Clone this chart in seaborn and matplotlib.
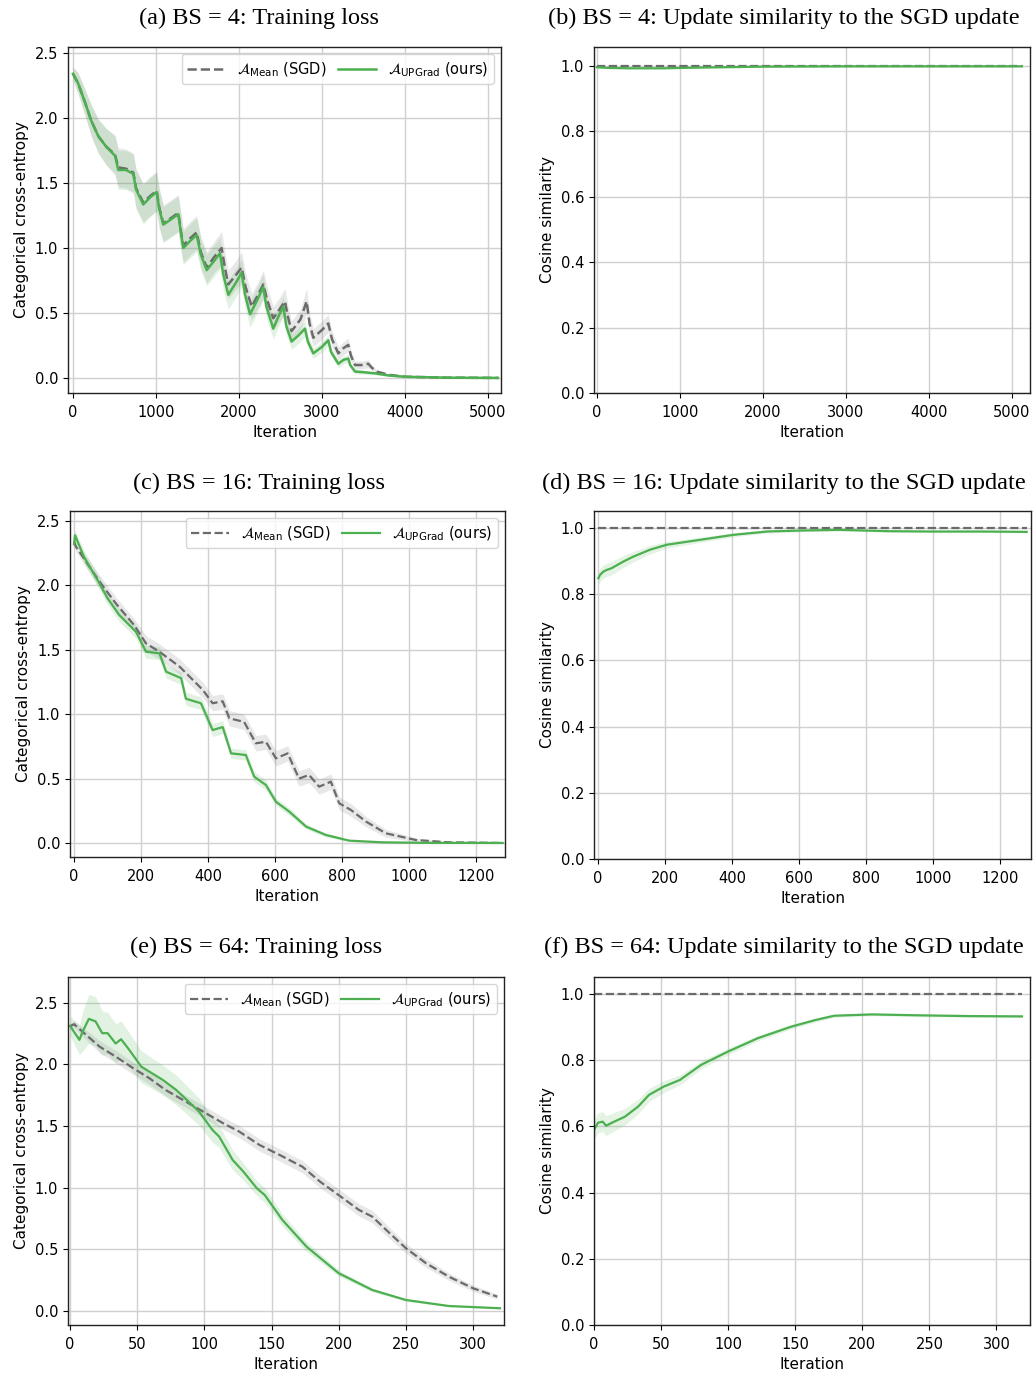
import numpy as np
import matplotlib
matplotlib.use("Agg")
import matplotlib.pyplot as plt
import seaborn as sns

# ---- data ----
# (a) BS = 4, training loss
a_up_x = [0, 60, 145, 220, 305, 400, 506, 546, 640, 727, 760, 847, 930, 1008, 1040, 1088, 1180, 1269, 1300, 1329,
          1420, 1490, 1540, 1611, 1700, 1771, 1810, 1871, 1960, 2032, 2070, 2133, 2220, 2293, 2330, 2413, 2480, 2534,
          2570, 2634, 2720, 2795, 2830, 2896, 3000, 3076, 3110, 3197, 3260, 3317, 3340, 3398, 3500, 3639, 3800, 4000,
          4500, 5120]
a_up_y = [2.34, 2.27, 2.12, 1.98, 1.86, 1.78, 1.71, 1.60, 1.60, 1.57, 1.45, 1.335, 1.39, 1.43, 1.30, 1.18, 1.22, 1.26,
          1.12, 1.00, 1.06, 1.10, 0.95, 0.83, 0.90, 0.96, 0.80, 0.64, 0.73, 0.81, 0.65, 0.49, 0.60, 0.70, 0.55, 0.38,
          0.48, 0.55, 0.40, 0.28, 0.33, 0.38, 0.28, 0.19, 0.24, 0.29, 0.20, 0.11, 0.14, 0.15, 0.10, 0.05, 0.045, 0.036,
          0.02, 0.01, 0.003, 0.001]
a_up_sd = [0.05, 0.08, 0.10, 0.12, 0.13, 0.14, 0.15, 0.15, 0.15, 0.15, 0.15, 0.15, 0.15, 0.15, 0.15, 0.14, 0.14, 0.14,
           0.14, 0.13, 0.13, 0.13, 0.12, 0.12, 0.12, 0.12, 0.12, 0.11, 0.11, 0.11, 0.10, 0.10, 0.10, 0.10, 0.09, 0.08,
           0.08, 0.08, 0.07, 0.06, 0.06, 0.06, 0.05, 0.04, 0.04, 0.04, 0.03, 0.03, 0.03, 0.03, 0.02, 0.02, 0.015,
           0.01, 0.005, 0.003, 0.001, 0.0]

a_mean_x = [0, 60, 145, 220, 305, 400, 506, 546, 640, 727, 760, 847, 930, 1008, 1040, 1088, 1180, 1269, 1300, 1329,
            1420, 1490, 1540, 1611, 1700, 1791, 1830, 1871, 1960, 2032, 2080, 2153, 2230, 2293, 2340, 2413, 2480,
            2554, 2590, 2634, 2740, 2815, 2850, 2896, 3000, 3076, 3120, 3197, 3260, 3317, 3350, 3398, 3480, 3558,
            3600, 3659, 3800, 4000, 4500, 5120]
a_mean_y = [2.34, 2.27, 2.12, 1.98, 1.86, 1.78, 1.72, 1.62, 1.61, 1.58, 1.46, 1.35, 1.40, 1.44, 1.31, 1.19, 1.23, 1.27,
            1.13, 1.02, 1.08, 1.12, 0.97, 0.85, 0.93, 1.00, 0.85, 0.72, 0.79, 0.85, 0.70, 0.55, 0.64, 0.72, 0.60, 0.46,
            0.52, 0.59, 0.47, 0.36, 0.45, 0.59, 0.42, 0.31, 0.37, 0.42, 0.30, 0.19, 0.23, 0.255, 0.17, 0.10, 0.10, 0.11,
            0.08, 0.05, 0.025, 0.01, 0.003, 0.001]
a_mean_sd = [0.05, 0.08, 0.10, 0.12, 0.13, 0.14, 0.15, 0.15, 0.15, 0.15, 0.15, 0.15, 0.15, 0.15, 0.15, 0.14, 0.14,
             0.14, 0.14, 0.13, 0.13, 0.13, 0.12, 0.12, 0.12, 0.13, 0.12, 0.11, 0.11, 0.12, 0.11, 0.10, 0.10, 0.11,
             0.10, 0.09, 0.09, 0.10, 0.09, 0.08, 0.08, 0.10, 0.08, 0.07, 0.07, 0.07, 0.06, 0.05, 0.05, 0.05, 0.04,
             0.03, 0.03, 0.03, 0.02, 0.015, 0.008, 0.004, 0.001, 0.0]

# (b) BS = 4, cosine similarity to the SGD update
b_x = [0, 150, 400, 800, 1200, 2000, 3000, 4000, 5120]
b_up = [0.995, 0.993, 0.992, 0.992, 0.994, 0.997, 0.998, 0.998, 0.998]
b_mean = [1.0, 1.0, 1.0, 1.0, 1.0, 1.0, 1.0, 1.0, 1.0]

# (c) BS = 16, training loss
c_up_x = [0, 3, 30, 76, 100, 135, 185, 215, 255, 275, 320, 334, 379, 414, 444, 469, 513, 538, 573, 603, 643, 693,
          752, 822, 920, 1050, 1280]
c_up_y = [2.32, 2.39, 2.22, 2.016, 1.90, 1.77, 1.64, 1.485, 1.473, 1.33, 1.28, 1.12, 1.085, 0.877, 0.90, 0.696,
          0.683, 0.515, 0.45, 0.32, 0.243, 0.127, 0.062, 0.018, 0.005, 0.001, 0.0]
c_up_sd = [0.03, 0.04, 0.05, 0.05, 0.05, 0.05, 0.05, 0.05, 0.05, 0.05, 0.05, 0.05, 0.05, 0.05, 0.05, 0.04, 0.04,
           0.04, 0.04, 0.03, 0.03, 0.02, 0.015, 0.008, 0.003, 0.001, 0.0]

c_mean_x = [0, 6, 76, 125, 180, 215, 255, 315, 384, 414, 444, 464, 508, 543, 573, 603, 638, 672, 702, 732, 767, 792,
            827, 872, 931, 1021, 1120, 1280]
c_mean_y = [2.34, 2.30, 2.03, 1.86, 1.69, 1.55, 1.485, 1.37, 1.19, 1.085, 1.10, 0.968, 0.94, 0.774, 0.786, 0.657,
            0.696, 0.50, 0.528, 0.437, 0.476, 0.308, 0.256, 0.166, 0.075, 0.023, 0.005, 0.0]
c_mean_sd = [0.03, 0.04, 0.05, 0.05, 0.05, 0.06, 0.06, 0.06, 0.06, 0.06, 0.06, 0.06, 0.06, 0.06, 0.06, 0.06, 0.06,
             0.06, 0.06, 0.06, 0.06, 0.05, 0.05, 0.04, 0.03, 0.015, 0.005, 0.0]

# (d) BS = 16, cosine similarity
d_x = [1, 6, 16, 26, 40, 75, 105, 155, 205, 305, 404, 504, 603, 722, 872, 1000, 1150, 1280]
d_up = [0.848, 0.858, 0.868, 0.873, 0.878, 0.898, 0.913, 0.934, 0.949, 0.964, 0.979, 0.989, 0.992, 0.994, 0.990,
        0.989, 0.989, 0.988]
d_up_sd = [0.02, 0.02, 0.02, 0.02, 0.02, 0.018, 0.016, 0.013, 0.01, 0.008, 0.006, 0.005, 0.004, 0.003, 0.003,
           0.003, 0.003, 0.003]
d_mean = [1.0] * len(d_x)

# (e) BS = 64, training loss
e_up_x = [0, 7, 9.4, 14, 19, 24, 28, 34, 38, 44, 53, 69, 79, 96, 106, 111, 121, 129, 139, 145, 158, 176, 200, 225,
          250, 282, 320]
e_up_y = [2.313, 2.20, 2.267, 2.37, 2.35, 2.254, 2.254, 2.17, 2.205, 2.12, 1.983, 1.875, 1.794, 1.618, 1.469, 1.415,
          1.226, 1.131, 0.996, 0.94, 0.739, 0.522, 0.306, 0.17, 0.089, 0.04, 0.022]
e_up_sd = [0.08, 0.12, 0.16, 0.20, 0.20, 0.18, 0.17, 0.16, 0.15, 0.14, 0.13, 0.12, 0.12, 0.11, 0.10, 0.09, 0.08,
           0.07, 0.06, 0.06, 0.05, 0.04, 0.025, 0.015, 0.01, 0.006, 0.004]

e_mean_x = [0, 3, 12, 22, 34, 47, 59, 71, 84, 101, 114, 126, 141, 156, 173, 186, 200, 215, 225, 238, 250, 265, 282,
            300, 318]
e_mean_y = [2.31, 2.327, 2.24, 2.145, 2.064, 1.97, 1.889, 1.794, 1.713, 1.605, 1.523, 1.455, 1.347, 1.266, 1.17,
            1.05, 0.94, 0.82, 0.765, 0.63, 0.509, 0.387, 0.278, 0.184, 0.116]
e_mean_sd = [0.02, 0.03, 0.04, 0.05, 0.05, 0.05, 0.05, 0.05, 0.05, 0.05, 0.05, 0.05, 0.05, 0.05, 0.05, 0.05, 0.05,
             0.05, 0.05, 0.045, 0.04, 0.035, 0.03, 0.025, 0.02]

# (f) BS = 64, cosine similarity
f_x = [0, 3, 6.5, 9, 15, 23, 33, 41, 52, 64, 80, 100, 122, 147, 165, 179, 207, 246, 280, 319]
f_up = [0.589, 0.611, 0.614, 0.602, 0.614, 0.629, 0.66, 0.695, 0.72, 0.74, 0.786, 0.826, 0.866, 0.901, 0.921,
        0.934, 0.938, 0.935, 0.933, 0.932]
f_up_sd = [0.03, 0.03, 0.03, 0.03, 0.028, 0.025, 0.022, 0.02, 0.018, 0.015, 0.012, 0.01, 0.008, 0.007, 0.006,
           0.005, 0.004, 0.004, 0.004, 0.004]
f_mean = [1.0] * len(f_x)

titles = ["(a) BS = 4: Training loss", "(b) BS = 4: Update similarity to the SGD update",
          "(c) BS = 16: Training loss", "(d) BS = 16: Update similarity to the SGD update",
          "(e) BS = 64: Training loss", "(f) BS = 64: Update similarity to the SGD update"]
mean_label = r"$\mathcal{A}_{\mathrm{Mean}}$ (SGD)"
up_label = r"$\mathcal{A}_{\mathrm{UPGrad}}$ (ours)"

GREEN = "#4caf50"
GRAY = "#6b6b6b"

plt.rcParams["font.family"] = ["DejaVu Sans"]
plt.rcParams["axes.edgecolor"] = "#222222"

W, H = 1034, 1373
fig = plt.figure(figsize=(W / 100, H / 100), dpi=100)


def box(l, t, r, b):
    return [l / W, 1 - b / H, (r - l) / W, (b - t) / H]


axes = [
    fig.add_axes(box(68, 47, 501, 393)),
    fig.add_axes(box(594, 47, 1030, 393)),
    fig.add_axes(box(70, 511, 505, 857)),
    fig.add_axes(box(594, 511, 1031, 859)),
    fig.add_axes(box(68, 977, 504, 1325)),
    fig.add_axes(box(594, 977, 1030, 1325)),
]
# caption centres (pixels) for each panel
title_pos = [(259, 18), (784, 18), (259, 483), (784, 483), (256, 947), (784, 947)]


def band(ax, x, y, sd, color, alpha):
    y = np.asarray(y)
    sd = np.asarray(sd)
    ax.fill_between(x, y - sd, y + sd, color=color, alpha=alpha, linewidth=0)


def loss_panel(ax, mx, my, msd, ux, uy, usd, lw):
    band(ax, mx, my, msd, GRAY, 0.15)
    band(ax, ux, uy, usd, GREEN, 0.16)
    sns.lineplot(x=mx, y=my, ax=ax, color=GRAY, linestyle="--", linewidth=lw, label=mean_label)
    sns.lineplot(x=ux, y=uy, ax=ax, color=GREEN, linewidth=lw, label=up_label)
    ax.set_ylabel("Categorical cross-entropy", fontsize=11)
    ax.legend(loc="upper right", fontsize=10.5, handlelength=2.6, ncol=2, columnspacing=0.8,
              borderaxespad=0.5, framealpha=0.8)


def sim_panel(ax, x, mean, up, sd):
    band(ax, x, up, sd, GREEN, 0.15)
    sns.lineplot(x=x, y=mean, ax=ax, color=GRAY, linestyle="--", linewidth=1.6)
    sns.lineplot(x=x, y=up, ax=ax, color=GREEN, linewidth=1.6)
    ax.set_ylabel("Cosine similarity", fontsize=11)


loss_panel(axes[0], a_mean_x, a_mean_y, a_mean_sd, a_up_x, a_up_y, a_up_sd, 1.8)
sim_panel(axes[1], b_x, b_mean, b_up, [0.002] * len(b_x))
loss_panel(axes[2], c_mean_x, c_mean_y, c_mean_sd, c_up_x, c_up_y, c_up_sd, 1.6)
sim_panel(axes[3], d_x, d_mean, d_up, d_up_sd)
loss_panel(axes[4], e_mean_x, e_mean_y, e_mean_sd, e_up_x, e_up_y, e_up_sd, 1.6)
sim_panel(axes[5], f_x, f_mean, f_up, f_up_sd)

xlims = [(-60, 5157), (-36, 5217), (-12, 1287), (-12, 1293), (-1.5, 323), (0, 325)]
ylims = [(-0.115, 2.546), (0, 1.057), (-0.109, 2.578), (0, 1.051), (-0.114, 2.71), (0, 1.051)]
xticks = [np.arange(0, 5001, 1000)] * 2 + [np.arange(0, 1201, 200)] * 2 + [np.arange(0, 301, 50)] * 2

for i, ax in enumerate(axes):
    ax.set_xlim(*xlims[i])
    ax.set_ylim(*ylims[i])
    ax.set_xticks(xticks[i])
    if i % 2 == 0:
        ax.set_yticks([0.0, 0.5, 1.0, 1.5, 2.0, 2.5])
    else:
        ax.set_yticks([0.0, 0.2, 0.4, 0.6, 0.8, 1.0])
    ax.yaxis.set_major_formatter(matplotlib.ticker.FormatStrFormatter("%.1f"))
    ax.grid(True, color="#d0d0d0", linewidth=1.0)
    ax.set_axisbelow(True)
    ax.tick_params(labelsize=10.5)
    ax.tick_params(axis="x", pad=5)
    ax.set_xlabel("Iteration", fontsize=11, labelpad=4)
    tx, ty = title_pos[i]
    fig.text(tx / W, 1 - ty / H, titles[i], ha="center", va="center",
             fontsize=17.5, family=["Liberation Serif", "DejaVu Serif"])
    for s in ax.spines.values():
        s.set_linewidth(1.0)

fig.savefig("out.png", dpi=100)
